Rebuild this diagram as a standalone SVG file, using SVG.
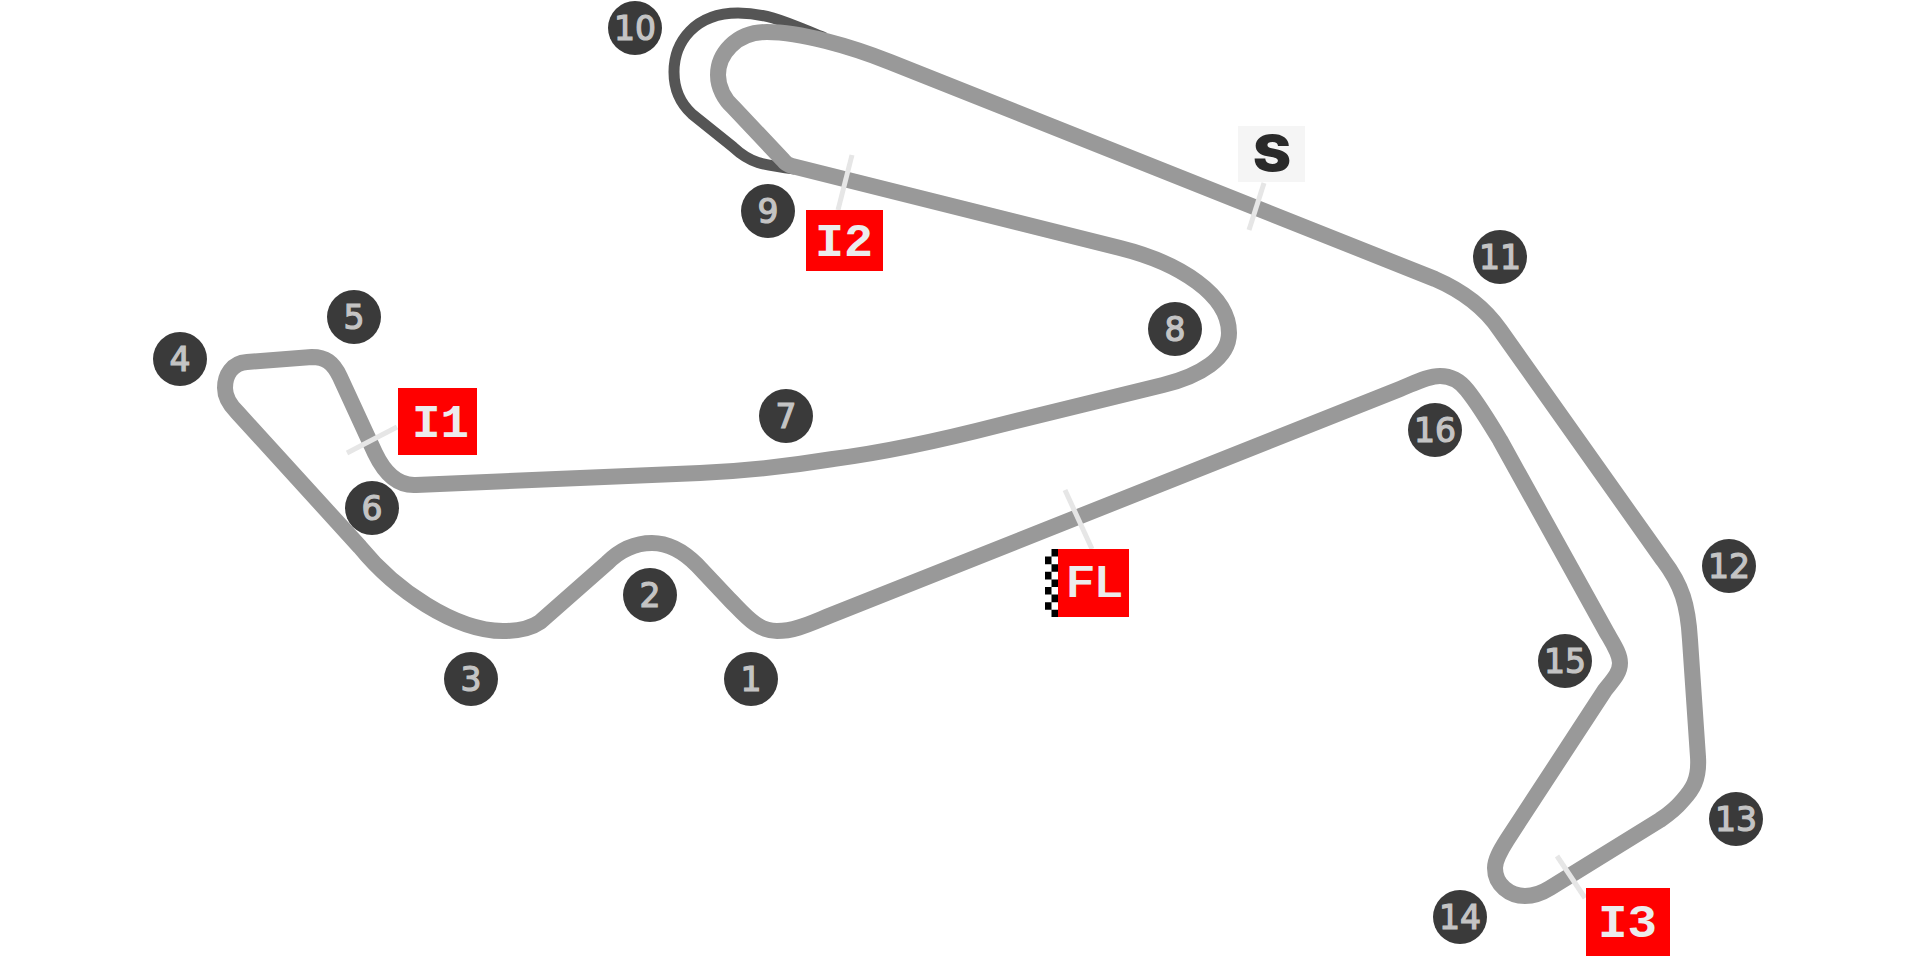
<svg xmlns="http://www.w3.org/2000/svg" width="1917" height="956" viewBox="0 0 1917 956">
<style>
.track{fill:none;stroke:#999;stroke-width:16;stroke-linejoin:round}
.pit{fill:none;stroke:#555;stroke-width:11}
.tick{stroke:#e6e6e6;stroke-width:5;fill:none}
.num circle{fill:#3a3a3a}
.num text{fill:#c4c4c4;stroke:#c4c4c4;stroke-width:1.200;font:400 33px "DejaVu Sans",sans-serif;text-anchor:middle}
.lab rect.bg{fill:#f00}
.lab text{fill:#ececec;font:700 46px "Liberation Mono",monospace}
.lab text.sans{font:600 42px Inter,"Liberation Sans",sans-serif}
</style>
<rect width="1917" height="956" fill="#fff"/>
<g id="connectors">
<path id="pit" class="pit" d="M825 38C805 30 790 23 773 18C762 15 750 13 738 13C695 13 674 42 674 72C674 90 680 103 692 114L733 147C750 163 762 165 795 169"/>
<path id="circuit" class="track" d="M830 615.500L1400 389C1415 383 1428 376 1440 376C1452 376 1460 381 1467 390C1475 400 1485 415 1500 440L1607 633C1614 645 1620 654 1620 663C1620 673 1613 680 1605 690L1507 840C1500 851 1495 860 1495 868C1495 885 1510 896 1525 896C1535 896 1542 893 1550 888L1660 820C1672 812 1678 806 1683 800C1692 790 1699.500 780 1698 757L1690 640C1688 605 1682 585 1663 560L1500 330C1485 308 1465 292 1435 279L890 62C850 46 800 32 767 32C735 32 718 55 718 75C718 88 725 100 733 107L783 160C786 164 788 165 792 166L1120 248C1180 263 1229 295 1229 333C1229 358 1200 376 1163 385L1000 425C930 443 880 453 833 459C790 466 745 471 700 473L416 485C398 486 385 474 375 453L340 377C333 362 325 357 312 357L247 362C232 363 225 375 225 388C225 397 230 405 237 412L360 547C395 590 455 631 503 631C518 631 530 629 540 622L607 563C620 550 635 543 652 543C668 543 684 552 697 565L730 600C745 615 757 631 777 631C795 631 810 623.500 830 615.500Z"/>
<line class="tick" x1="852" y1="155" x2="838" y2="210"/>
<line class="tick" x1="1065" y1="490" x2="1092" y2="549"/>
<line class="tick" x1="397" y1="427" x2="347" y2="453"/>
<line class="tick" x1="1557" y1="856" x2="1585" y2="898"/>
<line class="tick" x1="1264" y1="183" x2="1249" y2="230"/>
</g>
<g id="n1" class="num"><circle cx="751" cy="679" r="27"/><text x="751" y="691">1</text></g>
<g id="n2" class="num"><circle cx="650" cy="595" r="27"/><text x="650" y="607">2</text></g>
<g id="n3" class="num"><circle cx="471" cy="679" r="27"/><text x="471" y="691">3</text></g>
<g id="n4" class="num"><circle cx="180" cy="359" r="27"/><text x="180" y="371">4</text></g>
<g id="n5" class="num"><circle cx="354" cy="317" r="27"/><text x="354" y="329">5</text></g>
<g id="n6" class="num"><circle cx="372" cy="508" r="27"/><text x="372" y="520">6</text></g>
<g id="n7" class="num"><circle cx="786" cy="416" r="27"/><text x="786" y="428">7</text></g>
<g id="n8" class="num"><circle cx="1175" cy="329" r="27"/><text x="1175" y="341">8</text></g>
<g id="n9" class="num"><circle cx="768" cy="211" r="27"/><text x="768" y="223">9</text></g>
<g id="n10" class="num"><circle cx="635" cy="28" r="27"/><text x="635" y="40" textLength="42" lengthAdjust="spacingAndGlyphs">10</text></g>
<g id="n11" class="num"><circle cx="1500" cy="257" r="27"/><text x="1500" y="269" textLength="42" lengthAdjust="spacingAndGlyphs">11</text></g>
<g id="n12" class="num"><circle cx="1729" cy="566" r="27"/><text x="1729" y="578" textLength="42" lengthAdjust="spacingAndGlyphs">12</text></g>
<g id="n13" class="num"><circle cx="1736" cy="819" r="27"/><text x="1736" y="831" textLength="42" lengthAdjust="spacingAndGlyphs">13</text></g>
<g id="n14" class="num"><circle cx="1460" cy="917" r="27"/><text x="1460" y="929" textLength="42" lengthAdjust="spacingAndGlyphs">14</text></g>
<g id="n15" class="num"><circle cx="1565" cy="661" r="27"/><text x="1565" y="673" textLength="42" lengthAdjust="spacingAndGlyphs">15</text></g>
<g id="n16" class="num"><circle cx="1435" cy="430" r="27"/><text x="1435" y="442" textLength="42" lengthAdjust="spacingAndGlyphs">16</text></g>
<g id="I1" class="lab"><rect class="bg" x="398" y="388" width="79" height="67"/><text x="412" y="437" textLength="57" lengthAdjust="spacingAndGlyphs">I1</text></g>
<g id="I2" class="lab"><rect class="bg" x="806" y="210" width="77" height="61"/><text x="815" y="256" textLength="58" lengthAdjust="spacingAndGlyphs">I2</text></g>
<g id="I3" class="lab"><rect class="bg" x="1586" y="888" width="84" height="68"/><text x="1598" y="937" textLength="59" lengthAdjust="spacingAndGlyphs">I3</text></g>
<g id="FL" class="lab">
<rect x="1045" y="549" width="13" height="68" fill="#fff"/>
<path fill="#000" d="M1051.500 549h6.500v7.600h-6.500zM1045 556.600h6.500v7.600h-6.500zM1051.500 564.200h6.500v7.600h-6.500zM1045 571.800h6.500v7.600h-6.500zM1051.500 579.400h6.500v7.600h-6.500zM1045 587h6.500v7.600h-6.500zM1051.500 594.600h6.500v7.600h-6.500zM1045 602.200h6.500v7.600h-6.500zM1051.500 609.800h6.500v7.200h-6.500z"/>
<rect class="bg" x="1058" y="549" width="71" height="68"/><text class="sans" x="1066" y="597" textLength="57" lengthAdjust="spacingAndGlyphs">FL</text></g>
<g id="S" class="lab"><rect x="1238" y="126" width="67" height="56" fill="#f5f5f5"/><text x="1253" y="171" textLength="38" lengthAdjust="spacingAndGlyphs" style="fill:#2a2a2a;font:900 50px Inter,'Liberation Sans',sans-serif">S</text></g>
</svg>
